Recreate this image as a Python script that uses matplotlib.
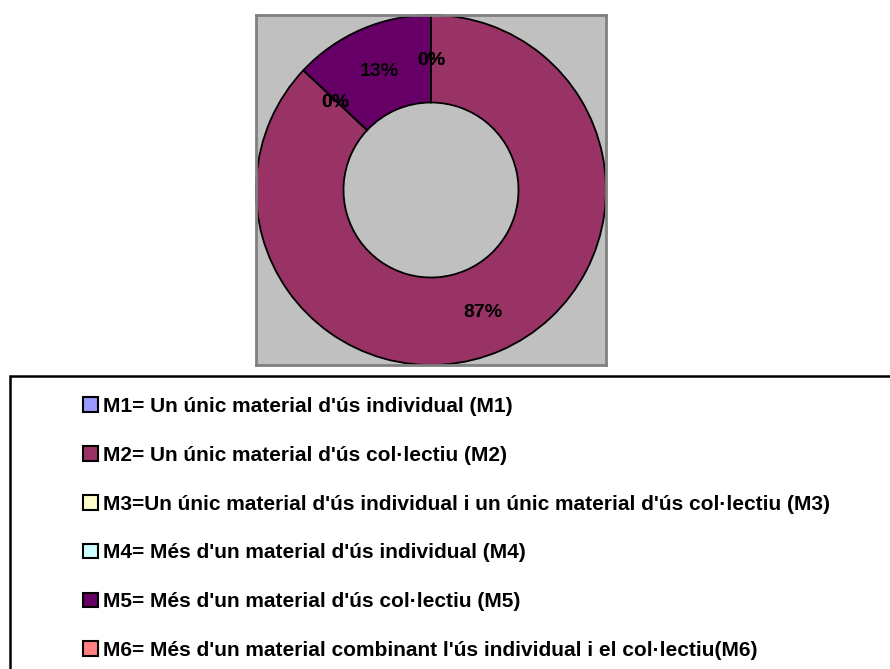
import matplotlib.pyplot as plt
from matplotlib.patches import Rectangle

# material usage shares (percent)
labels = ["M1= Un únic material d'ús individual (M1)",
          "M2= Un únic material d'ús col·lectiu (M2)",
          "M3=Un únic material d'ús individual i un únic material d'ús col·lectiu (M3)",
          "M4= Més d'un material d'ús individual (M4)",
          "M5= Més d'un material d'ús col·lectiu (M5)",
          "M6= Més d'un material combinant l'ús individual i el col·lectiu(M6)"]
values = [0, 87, 0, 0, 13, 0]
colors = ["#9999FF", "#993366", "#FFFFCC", "#CCFFFF", "#660066", "#FF8080"]

plt.rcParams['font.family'] = ['Liberation Sans', 'DejaVu Sans']
plt.rcParams['font.weight'] = 'bold'

W, H = 890, 669
fig = plt.figure(figsize=(W / 100, H / 100), dpi=100)

# donut plot area
ax = fig.add_axes([256 / W, (H - 365) / H, 350 / W, 350 / H])

wedges, texts, autotexts = ax.pie(
    values, colors=colors, startangle=90, counterclock=False,
    autopct=lambda p: "%.0f%%" % p, pctdistance=0.75,
    wedgeprops=dict(width=0.5, edgecolor="black", linewidth=1.3),
    textprops=dict(fontsize=14, fontweight="bold", color="black"))
for t in autotexts:
    t.set_va("center_baseline")
ax.set_frame_on(True)
ax.set_facecolor("#C0C0C0")
for s in ax.spines.values():
    s.set_visible(True)
    s.set_color("#808080")
    s.set_linewidth(2)
ax.set_xlim(-1.0, 1.0)
ax.set_ylim(-1.0, 1.0)
ax.set_aspect("auto")
ax.set_xticks([])
ax.set_yticks([])

# legend box runs off the right and bottom edges
fig.patches.append(Rectangle((10 / W, -0.05), 1.0, (H - 376) / H + 0.05,
                             transform=fig.transFigure, fill=False,
                             edgecolor="black", linewidth=1.8))

leg = fig.legend(wedges, labels, loc="upper left",
                 bbox_to_anchor=(83 / W, (H - 397) / H),
                 frameon=False, fontsize=15, handlelength=0.7,
                 handleheight=0.7, handletextpad=0.25, labelspacing=1.43,
                 borderaxespad=0, borderpad=0)
for h in leg.legend_handles:
    h.set_edgecolor("black")
    h.set_linewidth(1.5)

fig.savefig("out.png", dpi=100)
